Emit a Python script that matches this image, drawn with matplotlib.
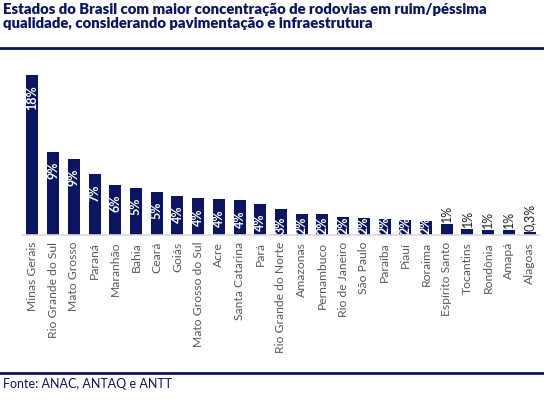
import matplotlib
matplotlib.use("Agg")
import matplotlib.pyplot as plt
from matplotlib.lines import Line2D

# dados
estados = ["Minas Gerais", "Rio Grande do Sul", "Mato Grosso", "Paraná", "Maranhão",
           "Bahia", "Ceará", "Goiás", "Mato Grosso do Sul", "Acre", "Santa Catarina",
           "Pará", "Rio Grande do Norte", "Amazonas", "Pernambuco", "Rio de Janeiro",
           "São Paulo", "Paraíba", "Piauí", "Roraima", "Espírito Santo", "Tocantins",
           "Rondônia", "Amapá", "Alagoas"]
valores = [17.9, 9.3, 8.5, 6.8, 5.6, 5.3, 4.8, 4.4, 4.1, 4.0, 3.9, 3.5, 2.9,
           2.4, 2.4, 2.0, 1.9, 1.8, 1.7, 1.6, 1.25, 0.7, 0.6, 0.6, 0.3]
rotulos = ["18%", "9%", "9%", "7%", "6%", "5%", "5%", "4%", "4%", "4%", "4%", "4%", "3%",
           "2%", "2%", "2%", "2%", "2%", "2%", "2%", "1%", "1%", "1%", "1%", "0,3%"]

navy = "#0b1560"
plt.rcParams['font.family'] = ['Lato', 'DejaVu Sans']

fig = plt.figure(figsize=(5.44, 3.99), dpi=100)
ax = fig.add_axes([22 / 544, 164 / 399, 518 / 544, 172 / 399])

x = list(range(len(estados)))
ax.bar(x, valores, width=0.58, color=navy)
ax.set_xlim(-0.5, len(estados) - 0.5)
ax.set_ylim(0, 19.3)

# rotulos dentro da barra; se nao cabem, ficam apoiados na base (parte de cima some no branco)
for i, (v, r) in enumerate(zip(valores, rotulos)):
    if i < 20:
        h_px = ax.transData.transform((0, v))[1] - ax.transData.transform((0, 0))[1]
        if h_px >= 28:
            ax.annotate(r, (i, v), xytext=(0, -7), textcoords="offset points",
                        rotation=90, ha="center", va="top", color="white",
                        fontsize=9, fontweight="bold")
        else:
            ax.annotate(r, (i, 0), xytext=(0, 1), textcoords="offset points",
                        rotation=90, ha="center", va="bottom", color="white",
                        fontsize=9, fontweight="bold")
    else:
        ax.annotate(r, (i, v), xytext=(0, 1), textcoords="offset points",
                    rotation=90, ha="center", va="bottom", color="#222222",
                    fontsize=9)

ax.set_xticks(x)
ax.set_xticklabels(estados, rotation=90, fontsize=8.7, color="#595959")
ax.tick_params(axis="x", length=0, pad=5)
ax.set_yticks([])
for s in ["top", "right", "left"]:
    ax.spines[s].set_visible(False)
ax.spines["bottom"].set_color("#d9d9d9")
ax.spines["bottom"].set_linewidth(1.2)

fig.text(3 / 544, 1 - 3 / 399,
         "Estados do Brasil com maior concentração de rodovias em ruim/péssima\n"
         "qualidade, considerando pavimentação e infraestrutura",
         ha="left", va="top", fontsize=10.7, fontweight="heavy", color=navy,
         linespacing=1.12)
fig.add_artist(Line2D([0, 1], [1 - 48 / 399] * 2, color=navy, lw=2))
fig.add_artist(Line2D([0, 1], [1 - 373 / 399] * 2, color=navy, lw=2))
fig.text(3 / 544, 1 - 384 / 399, "Fonte: ANAC, ANTAQ e ANTT", ha="left", va="center",
         fontsize=9, color=navy)

fig.savefig("out.png", dpi=100)
